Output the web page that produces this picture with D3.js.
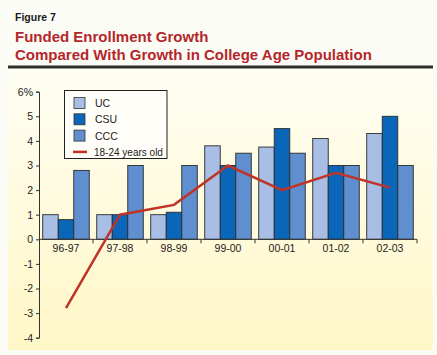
<!DOCTYPE html>
<html>
<head>
<meta charset="utf-8">
<script src="https://cdn.jsdelivr.net/npm/d3@7"></script>
<style>
  html, body { margin: 0; padding: 0; background: #fcfcf7; }
  svg { display: block; font-family: "Liberation Sans", Arial, sans-serif; }
</style>
</head>
<body>
<svg id="chart" width="437" height="355"></svg>
<script>
const categories = ["96-97", "97-98", "98-99", "99-00", "00-01", "01-02", "02-03"];
const seriesNames = ["UC", "CSU", "CCC"];
const ucValues  = [1.0, 1.0, 1.0, 3.8, 3.75, 4.1, 4.3];
const csuValues = [0.8, 1.0, 1.1, 3.0, 4.5, 3.0, 5.0];
const cccValues = [2.8, 3.0, 3.0, 3.5, 3.5, 3.0, 3.0];
const popValues = [-2.8, 1.0, 1.4, 3.0, 2.0, 2.7, 2.1];
const popLabel = "18-24 years old";
const yTicks = [-4, -3, -2, -1, 0, 1, 2, 3, 4, 5, 6];

const colors = { UC: "#a8bee4", CSU: "#0a66b8", CCC: "#5f8fcf" };
const lineColor = "#bf3328";

const svg = d3.select("#chart");

// panel gradient
const defs = svg.append("defs");
const grad = defs.append("linearGradient").attr("id", "bg").attr("x1", 0).attr("y1", 0).attr("x2", 0).attr("y2", 1);
grad.append("stop").attr("offset", "0%").attr("stop-color", "#fffef4");
grad.append("stop").attr("offset", "100%").attr("stop-color", "#fff7c6");

svg.append("rect").attr("x", 8).attr("y", 67).attr("width", 425).attr("height", 283).attr("fill", "url(#bg)");
svg.append("rect").attr("x", 8).attr("y", 65.5).attr("width", 425).attr("height", 3).attr("fill", "#2e2e2e");

// headings
svg.append("text").attr("x", 15).attr("y", 21).attr("font-size", 10.5).attr("font-weight", "bold")
  .attr("fill", "#1a1a1a").text("Figure 7");
svg.append("text").attr("x", 15).attr("y", 42).attr("font-size", 15).attr("font-weight", "bold")
  .attr("fill", "#b5262a").text("Funded Enrollment Growth");
svg.append("text").attr("x", 15).attr("y", 60).attr("font-size", 15).attr("font-weight", "bold")
  .attr("fill", "#b5262a").text("Compared With Growth in College Age Population");

// scales
const x = d3.scaleBand().domain(categories).range([39, 417]).paddingInner(0).paddingOuter(0);
const xInner = d3.scaleBand().domain(seriesNames).range([0, x.bandwidth()]).paddingInner(0).paddingOuter(0.24);
const y = d3.scaleLinear().domain([-4, 6]).range([337.7, 91.7]);

const seriesValues = { UC: ucValues, CSU: csuValues, CCC: cccValues };
const rows = categories.map((c, i) => ({ c, vals: seriesNames.map(s => ({ s, v: seriesValues[s][i] })) }));

// bars
const g = svg.append("g");
g.selectAll("g.grp").data(rows).join("g").attr("class", "grp")
  .attr("transform", d => `translate(${x(d.c)},0)`)
  .selectAll("rect").data(d => d.vals).join("rect")
  .attr("x", d => xInner(d.s))
  .attr("width", xInner.bandwidth())
  .attr("y", d => y(Math.max(0, d.v)))
  .attr("height", d => Math.abs(y(d.v) - y(0)))
  .attr("fill", d => colors[d.s])
  .attr("stroke", "#2a2a2a").attr("stroke-width", 0.9);

// y axis
const yAxis = d3.axisLeft(y).tickValues(yTicks).tickSize(3).tickPadding(3)
  .tickFormat(d => d === 6 ? "6%" : (d < 0 ? "-" + Math.abs(d) : String(d)));
const ya = svg.append("g").attr("transform", "translate(39,0)").call(yAxis);
ya.select(".domain").attr("stroke", "#333").attr("stroke-width", 1);
ya.selectAll(".tick line").attr("stroke", "#333");
ya.selectAll(".tick text").attr("font-size", 10.5).attr("fill", "#222").attr("font-family", "Liberation Sans, Arial, sans-serif");

// x axis at zero
const xa = svg.append("g").attr("transform", `translate(0,${y(0)})`);
xa.append("line").attr("x1", 39).attr("x2", 417).attr("stroke", "#333").attr("stroke-width", 1);
xa.selectAll("line.tk").data(categories).join("line").attr("class", "tk")
  .attr("x1", d => x(d) + x.bandwidth()).attr("x2", d => x(d) + x.bandwidth())
  .attr("y1", 0).attr("y2", 4).attr("stroke", "#333");
xa.selectAll("text").data(categories).join("text")
  .attr("x", d => x(d) + x.bandwidth() / 2).attr("y", 13)
  .attr("text-anchor", "middle").attr("font-size", 10.5).attr("fill", "#222").text(d => d);

// line
const line = d3.line().x((d, i) => x(categories[i]) + x.bandwidth() / 2).y(d => y(d));
svg.append("path").datum(popValues).attr("d", line).attr("fill", "none")
  .attr("stroke", lineColor).attr("stroke-width", 2.5).attr("stroke-linejoin", "miter");

// legend
const lg = svg.append("g");
lg.append("rect").attr("x", 64.5).attr("y", 90.5).attr("width", 102.5).attr("height", 68)
  .attr("fill", "#fffef8").attr("stroke", "#222").attr("stroke-width", 1);
seriesNames.forEach((s, i) => {
  const cy = 103 + i * 16.3;
  lg.append("rect").attr("x", 74).attr("y", cy - 5.5).attr("width", 11).attr("height", 11)
    .attr("fill", colors[s]).attr("stroke", "#333").attr("stroke-width", 0.8);
  lg.append("text").attr("x", 95).attr("y", cy + 4).attr("font-size", 10.5).attr("fill", "#222").text(s);
});
const ly = 103 + 3 * 16.3;
lg.append("line").attr("x1", 73).attr("x2", 87).attr("y1", ly).attr("y2", ly)
  .attr("stroke", lineColor).attr("stroke-width", 2.5);
lg.append("text").attr("x", 94).attr("y", ly + 4).attr("font-size", 10).attr("fill", "#222").text(popLabel);
</script>
</body>
</html>
